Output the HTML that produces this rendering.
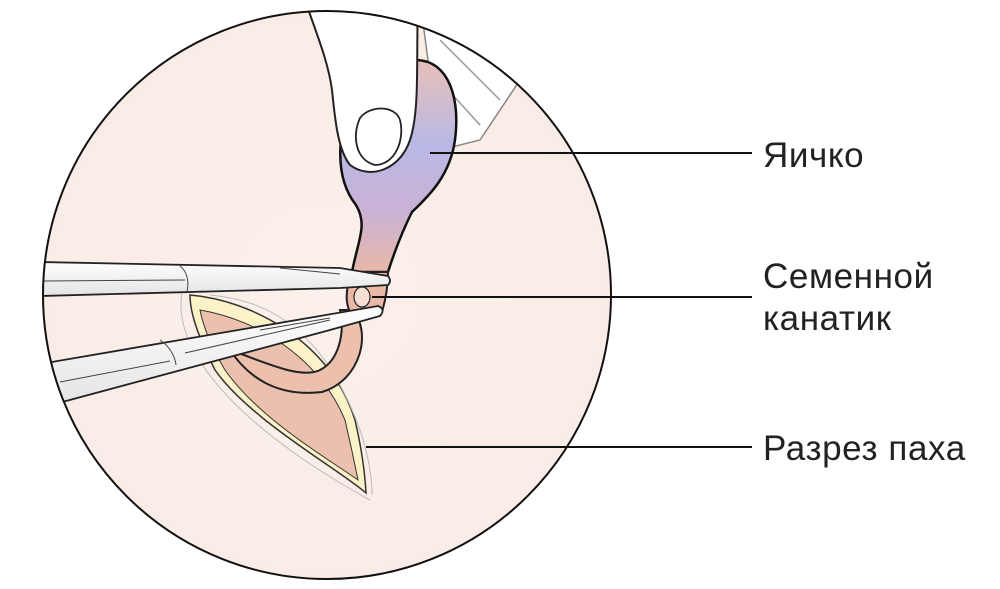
<!DOCTYPE html>
<html><head><meta charset="utf-8"><style>
html,body{margin:0;padding:0;background:#fff;width:1000px;height:589px;overflow:hidden}
svg{display:block}
text{font-family:"Liberation Sans",sans-serif;font-size:35px;letter-spacing:0.6px;fill:#222}
</style></head><body>
<svg width="1000" height="589" viewBox="0 0 1000 589">
<defs>
<radialGradient id="bg" cx="0.5" cy="0.5" r="0.6"><stop offset="0" stop-color="#fbf0eb"/><stop offset="1" stop-color="#f9ebe5"/></radialGradient>
<linearGradient id="tes" x1="0" y1="0" x2="0" y2="1"><stop offset="0" stop-color="#e8c0b8"/><stop offset="0.4" stop-color="#b9b8e6"/><stop offset="0.7" stop-color="#c9b2d6"/><stop offset="1" stop-color="#e6b8a8"/></linearGradient>
<linearGradient id="forc" x1="0" y1="0" x2="0" y2="1"><stop offset="0" stop-color="#fdfdfd"/><stop offset="1" stop-color="#e4e4e4"/></linearGradient>
<clipPath id="cc"><circle cx="327" cy="295" r="284"/></clipPath>
</defs>
<circle cx="327" cy="295" r="284" fill="url(#bg)"/>
<g clip-path="url(#cc)">
<path d="M420 0 L470 0 L520 80 L480 140 L440 150 Z" fill="#fff" stroke="#888" stroke-width="1.5"/>
<path d="M440 40 L500 100 M430 70 L480 125" stroke="#999" stroke-width="1.5" fill="none"/>
<path d="M190 295 C250 300 330 340 355 420 C362 450 365 475 366 493 C340 470 250 420 215 370 C200 340 190 315 190 295 Z" fill="#fbf2c8" stroke="#333" stroke-width="1.5"/>
<path d="M200 310 C260 320 320 360 345 420 C352 450 356 470 358 480 C330 460 260 420 225 370 C210 345 203 325 200 310 Z" fill="#ebc0ae" stroke="#333" stroke-width="1"/>
<path d="M182 292 C170 360 260 440 370 500" stroke="#bbb" fill="none"/>
<path d="M210 295 C260 300 320 320 360 430 C370 460 372 480 372 495" stroke="#bbb" fill="none"/>
<path d="M352 310 C372 330 362 380 322 392 C280 397 250 380 230 350 C260 360 300 380 320 370 C340 360 345 330 340 310 Z" fill="#ecc0ac" stroke="#222" stroke-width="2"/>
<path d="M345 115 C340 85 385 65 415 60 C450 60 460 100 455 140 C450 175 430 195 412 212 C402 232 395 250 388 272 L352 272 C358 240 368 225 356 205 C340 185 336 155 345 115 Z" fill="url(#tes)" stroke="#111" stroke-width="2.5"/>
<path d="M352 272 C347 285 344 300 350 312 L382 312 C387 295 388 282 388 272 Z" fill="#e9b8a6" stroke="#222" stroke-width="2"/>
<ellipse cx="362" cy="297" rx="8" ry="10" fill="#f8dfd5" stroke="#222" stroke-width="1.2"/>
<path d="M305 0 L418 0 C416 60 420 110 410 140 C400 170 370 180 350 165 C338 150 335 120 332 90 C328 60 315 30 305 0 Z" fill="#fff" stroke="#222" stroke-width="2"/>
<path d="M360 118 C370 105 395 105 400 120 C405 140 395 165 375 165 C355 160 352 135 360 118 Z" fill="#fff" stroke="#222" stroke-width="1.8"/>
<path d="M40 262 L340 268 L388 276 Q392 281 388 285 L340 288 L40 296 Z" fill="url(#forc)" stroke="#222" stroke-width="1.8"/>
<path d="M40 281 L185 280 M180 266 C185 270 190 278 187 292 M280 268 L340 274" stroke="#444" stroke-width="1" fill="none"/>
<path d="M40 364 L320 316 L378 306 Q386 309 380 316 L330 330 L40 408 Z" fill="url(#forc)" stroke="#222" stroke-width="1.8"/>
<path d="M60 382 L170 361 M160 340 C168 345 175 355 176 365 M185 353 L330 320 M260 330 L330 318" stroke="#444" stroke-width="1" fill="none"/>
</g>
<circle cx="327" cy="295" r="284" fill="none" stroke="#111" stroke-width="2"/>
<line x1="430" y1="153" x2="752" y2="153" stroke="#111" stroke-width="2"/>
<line x1="372" y1="297" x2="752" y2="297" stroke="#111" stroke-width="2"/>
<line x1="366" y1="447" x2="752" y2="447" stroke="#111" stroke-width="2"/>
<text x="763" y="167">Яичко</text>
<text x="763" y="288">Семенной</text>
<text x="763" y="330">канатик</text>
<text x="763" y="460">Разрез паха</text>
</svg>
</body></html>
